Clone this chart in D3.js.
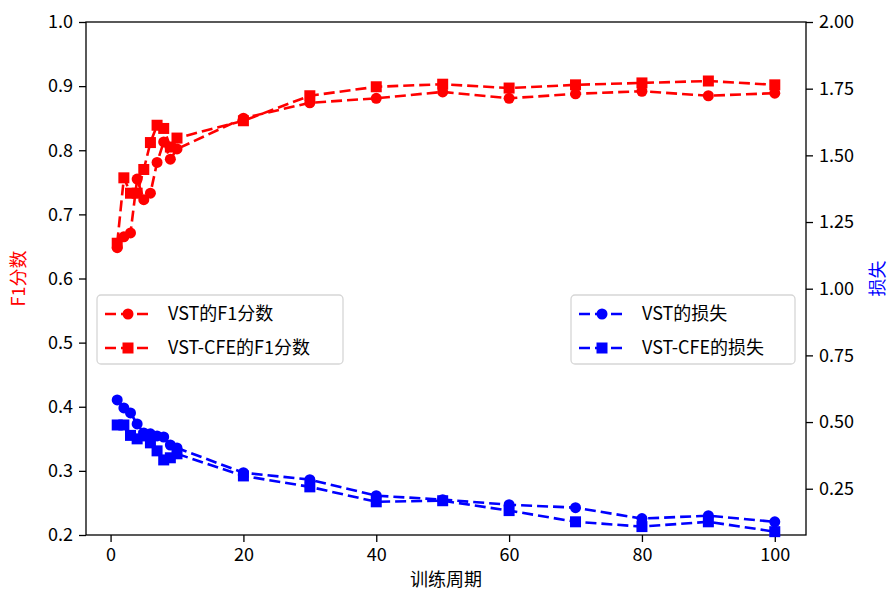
<!DOCTYPE html>
<html>
<head>
<meta charset="utf-8">
<script src="https://cdn.jsdelivr.net/npm/d3@7"></script>
<style>
  body { margin: 0; background: #fff; }
  svg text { font-family: "Noto Sans CJK SC", "DejaVu Sans", sans-serif; }
</style>
</head>
<body>
<svg id="chart" width="889" height="590"></svg>
<script>
// data
var epochs = [1, 2, 3, 4, 5, 6, 7, 8, 9, 10, 20, 30, 40, 50, 60, 70, 80, 90, 100]
var vstF1 = [0.648, 0.665, 0.671, 0.755, 0.723, 0.733, 0.781, 0.813, 0.786, 0.802, 0.850, 0.874, 0.881, 0.891, 0.881, 0.888, 0.892, 0.885, 0.889]
var cfeF1 = [0.655, 0.757, 0.733, 0.733, 0.770, 0.812, 0.839, 0.834, 0.805, 0.819, 0.846, 0.885, 0.899, 0.903, 0.897, 0.902, 0.905, 0.908, 0.902]
var vstLoss = [0.583, 0.553, 0.534, 0.493, 0.459, 0.456, 0.448, 0.444, 0.414, 0.403, 0.310, 0.284, 0.224, 0.209, 0.190, 0.179, 0.138, 0.149, 0.126]
var cfeLoss = [0.489, 0.489, 0.450, 0.437, 0.448, 0.422, 0.392, 0.358, 0.366, 0.381, 0.298, 0.257, 0.201, 0.205, 0.168, 0.126, 0.108, 0.126, 0.089]

var xTicks = [0, 20, 40, 60, 80, 100]
var leftTicks = [0.2, 0.3, 0.4, 0.5, 0.6, 0.7, 0.8, 0.9, 1.0]
var rightTicks = [0.25, 0.50, 0.75, 1.00, 1.25, 1.50, 1.75, 2.00]

var f1Names = ["VST的F1分数", "VST-CFE的F1分数"]
var lossNames = ["VST的损失", "VST-CFE的损失"]

// plot box
var boxL = 86, boxR = 806, boxT = 22, boxB = 535;

var svg = d3.select("#chart")

var x = d3.scaleLinear().domain([-3.7, 104.7]).range([boxL, boxR])
var yL = d3.scaleLinear().domain([0.2, 1.0]).range([boxB, boxT])
var yR = d3.scaleLinear().domain([0.0765, 2.0]).range([boxB, boxT])

var fontSize = "18px"

// axes
var xAxis = svg.append("g").attr("transform", "translate(0," + boxB + ")")
    .call(d3.axisBottom(x).tickValues(xTicks).tickSize(7).tickPadding(6).tickFormat(d3.format("d")))
var lAxis = svg.append("g").attr("transform", "translate(" + boxL + ",0)")
    .call(d3.axisLeft(yL).tickValues(leftTicks).tickSize(7).tickPadding(6).tickFormat(d3.format(".1f")))
var rAxis = svg.append("g").attr("transform", "translate(" + boxR + ",0)")
    .call(d3.axisRight(yR).tickValues(rightTicks).tickSize(7).tickPadding(6).tickFormat(d3.format(".2f")))

svg.selectAll(".domain").remove()
svg.selectAll(".tick line").attr("stroke", "#000").attr("stroke-width", 1.3)
svg.selectAll(".tick text").style("font-size", fontSize).attr("fill", "#000")
    .style("font-family", "\"Noto Sans CJK SC\", sans-serif")

// frame
svg.append("rect")
    .attr("x", boxL).attr("y", boxT)
    .attr("width", boxR - boxL).attr("height", boxB - boxT)
    .style("fill", "none").style("stroke", "#000").style("stroke-width", 1.3)

// axis labels
svg.append("text").attr("x", (boxL + boxR) / 2).attr("y", 586)
    .attr("text-anchor", "middle").style("font-size", fontSize).text("训练周期")
svg.append("text").attr("transform", "translate(25," + ((boxT + boxB) / 2) + ") rotate(-90)")
    .attr("text-anchor", "middle").style("font-size", fontSize).style("fill", "red").text("F1分数")
svg.append("text").attr("transform", "translate(884," + ((boxT + boxB) / 2) + ") rotate(-90)")
    .attr("text-anchor", "middle").style("font-size", fontSize).style("fill", "blue").text("损失")

// series
var dash = "11,5"
function drawSeries(vals, yScale, color, shape) {
    var pts = epochs.map(function(e, i){ return [x(e), yScale(vals[i])] })
    svg.append("path").attr("d", d3.line()(pts))
        .style("fill", "none").style("stroke", color)
        .style("stroke-width", 2.6).style("stroke-dasharray", dash)
    pts.forEach(function(p){
        if (shape == "circle") {
            svg.append("circle").attr("cx", p[0]).attr("cy", p[1]).attr("r", 5.5).style("fill", color)
        } else {
            svg.append("rect").attr("x", p[0] - 5.5).attr("y", p[1] - 5.5)
                .attr("width", 11).attr("height", 11).style("fill", color)
        }
    })
}

drawSeries(vstF1, yL, "red", "circle")
drawSeries(cfeF1, yL, "red", "square")

// legend
function legend(x0, y0, w, names, color) {
    svg.append("rect").attr("x", x0).attr("y", y0).attr("rx", 4).attr("ry", 4)
        .attr("width", w).attr("height", 69)
        .style("fill", "#fff").style("fill-opacity", 0.8)
        .style("stroke", "#d6d6d6").style("stroke-width", 1.3)
    names.forEach(function(n, i){
        var cy = y0 + 19 + i * 34
        svg.append("line").attr("x1", x0 + 8).attr("x2", x0 + 54).attr("y1", cy).attr("y2", cy)
            .style("stroke", color).style("stroke-width", 2.6).style("stroke-dasharray", dash)
        if (i == 0) {
            svg.append("circle").attr("cx", x0 + 31).attr("cy", cy).attr("r", 5.5).style("fill", color)
        } else {
            svg.append("rect").attr("x", x0 + 25.5).attr("y", cy - 5.5).attr("width", 11).attr("height", 11).style("fill", color)
        }
        svg.append("text").attr("x", x0 + 71).attr("y", cy).attr("dy", "0.35em")
            .style("font-size", fontSize).text(n)
    })
}

legend(97, 295, 246, f1Names, "red")

drawSeries(vstLoss, yR, "blue", "circle")
drawSeries(cfeLoss, yR, "blue", "square")

legend(571, 295, 224, lossNames, "blue")
</script>
</body>
</html>
